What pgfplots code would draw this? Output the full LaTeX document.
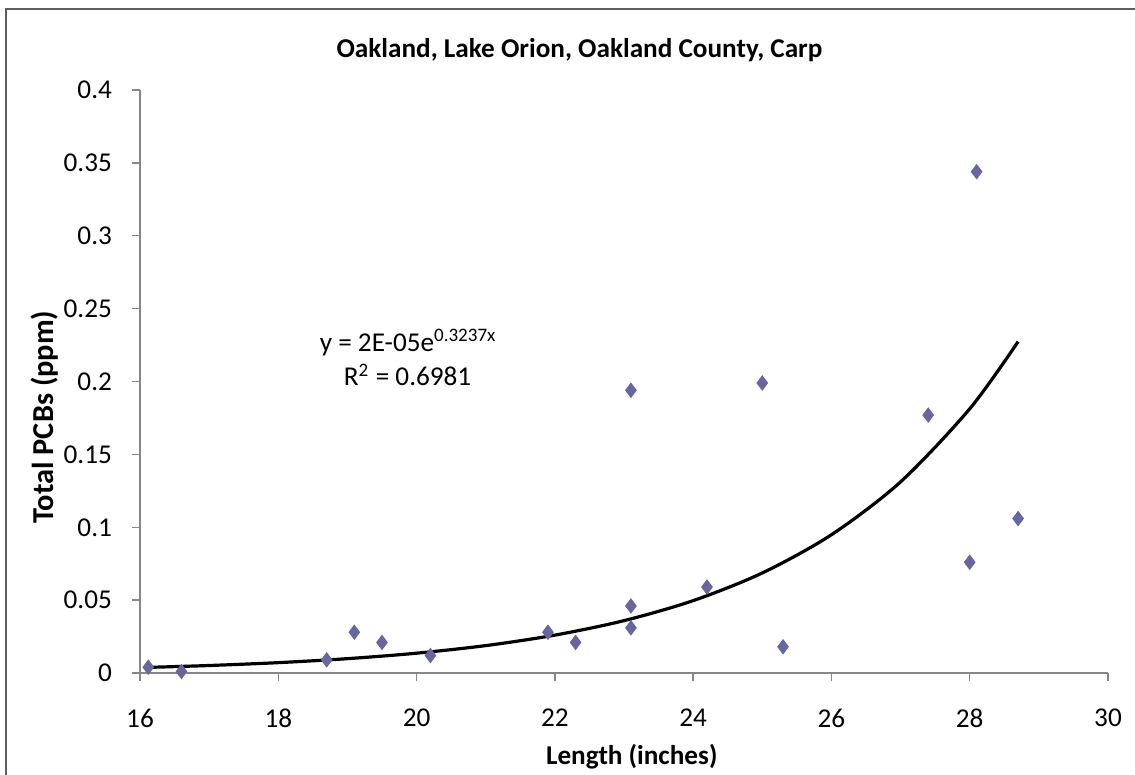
\documentclass[border=0pt]{standalone}
\usepackage{pgfplots}
\pgfplotsset{compat=1.18}
\usepackage{fontspec}
\setmainfont{Carlito}
\definecolor{mk}{RGB}{102,102,160}
\definecolor{ax}{RGB}{134,134,134}
\begin{document}
\begin{tikzpicture}[x=0.375pt,y=0.375pt]
\useasboundingbox (-140,673-774) rectangle (1135-140,673);
\begin{axis}[
  at={(0,0)}, anchor=south west,
  scale only axis, width=363pt, height=218.6pt,
  xmin=16, xmax=30, ymin=0, ymax=0.4,
  xtick={16,18,...,30}, ytick={0,0.05,...,0.4},
  axis x line*=bottom, axis y line*=left,
  axis line style={ax, line width=0.5pt},
  tick style={ax, line width=0.5pt},
  tick align=outside, major tick length=3pt,
  font=\fontsize{10.2pt}{12pt}\selectfont,
  /pgf/number format/assume math mode=true,
  scaled y ticks=false,
  yticklabel style={/pgf/number format/fixed, /pgf/number format/precision=2, xshift=-4pt},
  xticklabel style={yshift=-7pt},
  title={\textbf{Oakland, Lake Orion, Oakland County, Carp}},
  title style={at={(axis description cs:0.454,1.041)}, anchor=center},
  xlabel={\textbf{Length (inches)}},
  xlabel style={at={(axis description cs:0.508,-0.144)}, anchor=center},
  ylabel={\textbf{Total PCBs (ppm)}},
  ylabel style={at={(axis description cs:-0.099,0.439)}, anchor=center, font=\fontsize{11.4pt}{13pt}\selectfont},
  clip=false,
]
\addplot[only marks, mark=diamond*, mark size=2.6pt, mark options={fill=mk, draw=mk}] coordinates {
(16.12,0.004) (16.6,0.001) (18.7,0.009) (19.1,0.028) (19.5,0.021) (20.2,0.012)
(21.9,0.028) (22.3,0.021) (23.1,0.194) (23.1,0.046) (23.1,0.031) (24.2,0.059)
(25.0,0.199) (25.3,0.018) (27.4,0.177) (28.0,0.076) (28.1,0.344) (28.7,0.106)
};
\addplot[black, line width=1.2pt, smooth] coordinates {
(16.12,0.00387) (17,0.00515) (18,0.00712) (19,0.00985) (20,0.01361) (21,0.01881)
(22,0.02600) (23,0.03594) (24,0.04967) (25,0.06866) (26,0.09490) (27,0.13117)
(28,0.18131) (28.7,0.22741)
};
\node[font=\fontsize{10.2pt}{12pt}\selectfont] at (axis cs:19.88,0.227) {y = 2E-05e\textsuperscript{0.3237x}};
\node[font=\fontsize{10.2pt}{12pt}\selectfont] at (axis cs:19.87,0.2045) {R\textsuperscript{2} = 0.6981};
\end{axis}
\draw[ax!70!black, line width=0.6pt] (6-140,673-9) rectangle (1160-140,673-800);
\end{tikzpicture}
\end{document}
